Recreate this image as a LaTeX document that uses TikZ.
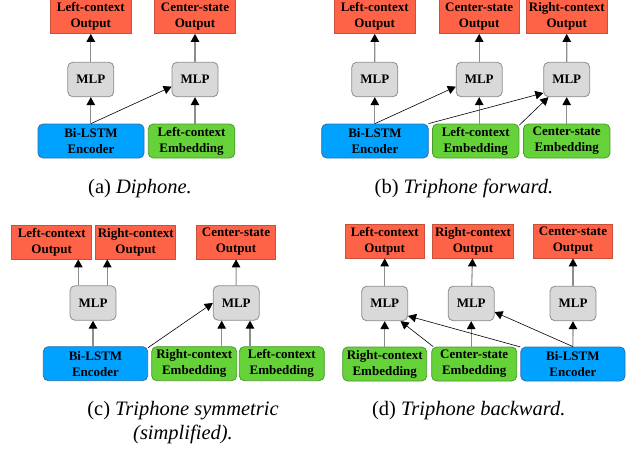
\documentclass[tikz,border=0pt]{standalone}
\usepackage{fontspec}
\setmainfont{Liberation Serif}
\usetikzlibrary{arrows.meta}

\definecolor{outred}{HTML}{FF6347}
\definecolor{outredline}{HTML}{C9503C}
\definecolor{mlpgray}{HTML}{D9D9D9}
\definecolor{mlpgrayline}{HTML}{8C8C8C}
\definecolor{encblue}{HTML}{00A2FF}
\definecolor{encblueline}{HTML}{2F6FA8}
\definecolor{embgreen}{HTML}{66D23A}
\definecolor{embgreenline}{HTML}{4A9A2A}

\begin{document}
\begin{tikzpicture}[x=1pt, y=-1pt,
    box/.style={inner sep=0pt, align=center, line width=0.8pt, minimum height=34pt,
                font=\fontsize{13}{16}\selectfont\bfseries},
    outbox/.style={box, fill=outred, draw=outredline, minimum width=80.5pt},
    mlpbox/.style={box, fill=mlpgray, draw=mlpgrayline, rounded corners=5pt, minimum width=46pt, minimum height=34.5pt},
    encbox/.style={box, fill=encblue, draw=encblueline, rounded corners=5pt, minimum width=106pt},
    embbox/.style={box, fill=embgreen, draw=embgreenline, rounded corners=5pt, minimum width=86.5pt},
    vup/.style={draw=black!45, line width=1.1pt, -{Triangle[length=8pt,width=8.5pt,black]}},
    diag/.style={draw=black, line width=0.6pt, -{Triangle[length=8pt,width=8.5pt,black]}},
    caption/.style={anchor=base, align=center, font=\fontsize{20.5}{24}\selectfont}]
    \useasboundingbox (0,0) rectangle (638,450);

    \node[outbox] (aLO) at (90.8,16.5) {Left-context\\Output};
    \node[outbox] (aCO) at (195,16.5) {Center-state\\Output};
    \node[mlpbox] (aM1) at (90.8,79.5) {MLP};
    \node[mlpbox] (aM2) at (195,79.5) {MLP};
    \node[encbox] (aEnc) at (91,141) {Bi-LSTM\\Encoder};
    \node[embbox] (aEmb) at (191.5,141) {Left-context\\Embedding};
    \draw[vup] (aM1) -- (aLO);
    \draw[vup] (aM2) -- (aCO);
    \draw[vup] (aEnc.north -| aM1) -- (aM1);
    \draw[vup] (aEmb.north -| aM2) -- (aM2);
    \draw[diag] (aEnc.north) -- (aM2.197);
    \node[caption] (aCap) at (140,193) {(a) \textit{Diphone.}};

    \node[outbox] (bLO) at (374.7,16.5) {Left-context\\Output};
    \node[outbox] (bCO) at (479.2,16.5) {Center-state\\Output};
    \node[outbox] (bRO) at (566.8,16.5) {Right-context\\Output};
    \node[mlpbox] (bM1) at (374.8,79.5) {MLP};
    \node[mlpbox] (bM2) at (479.2,79.5) {MLP};
    \node[mlpbox] (bM3) at (566.7,79.5) {MLP};
    \node[encbox, minimum width=106.6pt] (bEnc) at (375,141) {Bi-LSTM\\Encoder};
    \node[embbox] (bEmbL) at (475.7,141) {Left-context\\Embedding};
    \node[embbox] (bEmbC) at (566.7,141) {Center-state\\Embedding};
    \draw[vup] (bM1) -- (bLO);
    \draw[vup] (bM2) -- (bCO);
    \draw[vup] (bM3) -- (bRO);
    \draw[vup] (bEnc.north -| bM1) -- (bM1);
    \draw[vup] (bEmbL.north -| bM2) -- (bM2);
    \draw[vup] (bEmbC.north -| bM3) -- (bM3);
    \draw[diag] (bEnc.north) -- (bM2.197);
    \draw[diag] (bEnc.18) -- (bM3.210);
    \draw[diag] (bEmbL.20) -- (bM3.224);
    \node[caption] (bCap) at (464,193) {(b) \textit{Triphone forward.}};

    \node[outbox, minimum width=80pt] (cLO) at (51.7,242) {Left-context\\Output};
    \node[outbox, minimum width=80pt] (cRO) at (135.7,242) {Right-context\\Output};
    \node[outbox, minimum width=79pt] (cCO) at (236,242) {Center-state\\Output};
    \node[mlpbox] (cM1) at (93,303) {MLP};
    \node[mlpbox] (cM2) at (236.2,303) {MLP};
    \node[encbox, minimum width=104.4pt] (cEnc) at (95.5,363.7) {Bi-LSTM\\Encoder};
    \node[embbox, minimum width=85pt] (cEmbR) at (194.2,363.7) {Right-context\\Embedding};
    \node[embbox, minimum width=85pt] (cEmbL) at (281.8,363.7) {Left-context\\Embedding};
    \draw[vup] ([xshift=-14.7pt]cM1.north) -- ([xshift=-14.7pt]cM1.north |- cLO.south);
    \draw[vup] ([xshift=14.3pt]cM1.north) -- ([xshift=14.3pt]cM1.north |- cRO.south);
    \draw[vup] (cM2) -- (cCO);
    \draw[vup] (cEnc.north -| cM1) -- (cM1);
    \draw[vup] ([xshift=-14.5pt]cM2.south |- cEmbR.north) -- ([xshift=-14.5pt]cM2.south);
    \draw[vup] ([xshift=13.8pt]cM2.south |- cEmbL.north) -- ([xshift=13.8pt]cM2.south);
    \draw[diag] (cEnc.17) -- (cM2.west);
    \node[caption] (cCap) at (183,439) {(c) \textit{Triphone symmetric}\\\textit{(simplified).}};

    \node[outbox, minimum width=79.3pt] (dLO) at (384.7,241) {Left-context\\Output};
    \node[outbox] (dRO) at (473,241) {Right-context\\Output};
    \node[outbox, minimum width=79.4pt] (dCO) at (573,241) {Center-state\\Output};
    \node[mlpbox] (dM1) at (384.7,303.5) {MLP};
    \node[mlpbox] (dM2) at (471.2,303.5) {MLP};
    \node[mlpbox] (dM3) at (573,303.5) {MLP};
    \node[embbox, minimum width=84pt] (dEmbR) at (384.7,364) {Right-context\\Embedding};
    \node[embbox, minimum width=85pt] (dEmbC) at (474.2,364) {Center-state\\Embedding};
    \node[encbox, minimum width=104.3pt] (dEnc) at (572.9,364) {Bi-LSTM\\Encoder};
    \draw[vup] (dM1) -- (dLO);
    \draw[vup] (dM2) -- (dRO);
    \draw[vup] (dM3) -- (dCO);
    \draw[vup] (dEmbR) -- (dM1);
    \draw[vup] (dEmbC.north -| dM2) -- (dM2);
    \draw[vup] (dEnc) -- (dM3);
    \draw[diag] (dEnc.162) -- (dM1.-28);
    \draw[diag] (dEnc.north) -- (dM2.-20);
    \draw[diag] (dEmbC.157) -- (dM1.-48);
    \node[caption] (dCap) at (468.8,415) {(d) \textit{Triphone backward.}};

\end{tikzpicture}
\end{document}
